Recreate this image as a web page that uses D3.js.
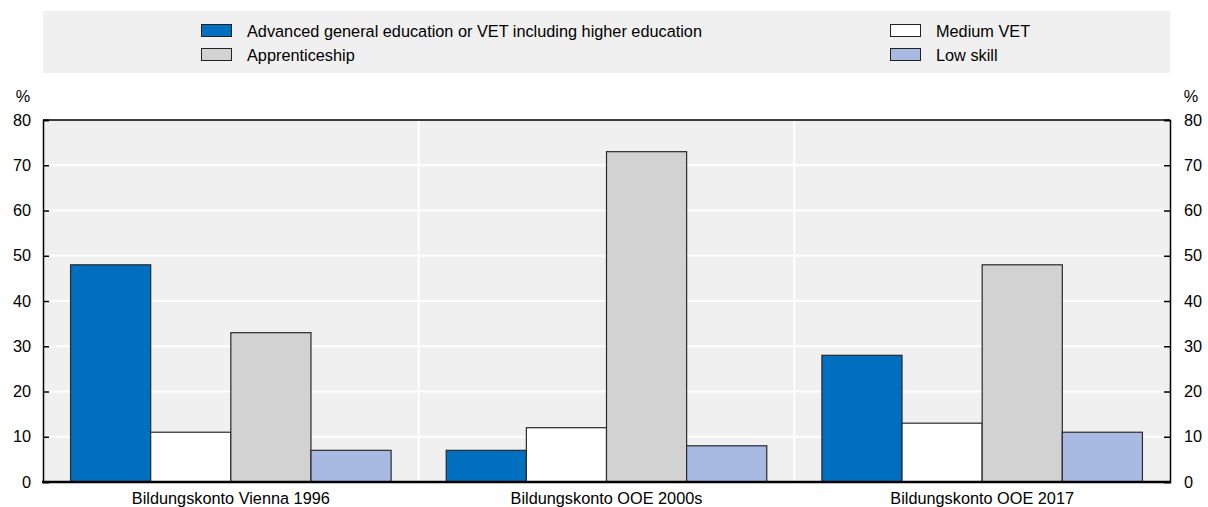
<!DOCTYPE html>
<html>
<head>
<meta charset="utf-8">
<script src="https://cdn.jsdelivr.net/npm/d3@7"></script>
<style>
  html, body { margin: 0; padding: 0; background: #fff; }
  svg { display: block; font-family: "Liberation Sans", Arial, sans-serif; }
</style>
</head>
<body>
<svg id="chart" width="1208" height="507"></svg>
<script>
// Participants by skill level, per programme (%)
const categories = ["Bildungskonto Vienna 1996", "Bildungskonto OOE 2000s", "Bildungskonto OOE 2017"];
const seriesNames = [
  "Advanced general education or VET including higher education",
  "Medium VET",
  "Apprenticeship",
  "Low skill"
];
const advanced = [48, 7, 28];
const mediumVET = [11, 12, 13];
const apprenticeship = [33, 73, 48];
const lowSkill = [7, 8, 11];
const yTicks = [0, 10, 20, 30, 40, 50, 60, 70, 80];

const seriesValues = [advanced, mediumVET, apprenticeship, lowSkill];
const colors = ["#006fc0", "#ffffff", "#d2d2d2", "#a8b9e2"];
const FS = 16.3;

const plot = { left: 43, right: 1170, top: 120, bottom: 482 };
const svg = d3.select("#chart");

// Legend panel
svg.append("rect")
  .attr("x", plot.left).attr("y", 11)
  .attr("width", plot.right - plot.left).attr("height", 62)
  .attr("fill", "#f0f0f0");

const legendPos = [
  { x: 201, y: 24 }, { x: 890, y: 24 },
  { x: 201, y: 48 }, { x: 890, y: 48 }
];
seriesNames.forEach((name, i) => {
  const p = legendPos[i];
  const g = svg.append("g").attr("transform", `translate(${p.x},${p.y})`);
  g.append("rect")
    .attr("x", 0.5).attr("y", 0.5).attr("width", 30).attr("height", 12)
    .attr("fill", colors[i]).attr("stroke", "#222").attr("stroke-width", 1);
  g.append("text")
    .attr("x", 46).attr("y", 12.5)
    .attr("font-size", FS).attr("fill", "#000")
    .text(name);
});

// Scales
const x0 = d3.scaleBand().domain(categories).range([plot.left, plot.right]).paddingInner(0).paddingOuter(0);
const x1 = d3.scaleBand().domain(d3.range(seriesNames.length)).range([0, x0.bandwidth()]).paddingOuter(0.344).paddingInner(0);
const y = d3.scaleLinear().domain([0, 80]).range([plot.bottom, plot.top]);

// Plot background
svg.append("rect")
  .attr("x", plot.left).attr("y", plot.top)
  .attr("width", plot.right - plot.left).attr("height", plot.bottom - plot.top)
  .attr("fill", "#f0f0f0");

// Horizontal gridlines
svg.append("g").selectAll("line")
  .data(yTicks.filter(t => t > 0 && t < 80))
  .join("line")
  .attr("x1", plot.left).attr("x2", plot.right)
  .attr("y1", d => y(d)).attr("y2", d => y(d))
  .attr("stroke", "#ffffff").attr("stroke-width", 2);

// Vertical separators between programmes
svg.append("g").selectAll("line")
  .data(categories.slice(1))
  .join("line")
  .attr("x1", d => x0(d)).attr("x2", d => x0(d))
  .attr("y1", plot.top).attr("y2", plot.bottom)
  .attr("stroke", "#ffffff").attr("stroke-width", 2);

// Bars
const groups = svg.append("g").selectAll("g")
  .data(categories)
  .join("g")
  .attr("transform", d => `translate(${x0(d)},0)`);

groups.selectAll("rect")
  .data((d, ci) => seriesValues.map((vals, si) => ({ si, v: vals[ci] })))
  .join("rect")
  .attr("x", d => x1(d.si))
  .attr("y", d => y(d.v))
  .attr("width", x1.bandwidth())
  .attr("height", d => y(0) - y(d.v))
  .attr("fill", d => colors[d.si])
  .attr("stroke", "#2a2a2a")
  .attr("stroke-width", 1.2);

// Left axis
const leftAxis = d3.axisLeft(y).tickValues(yTicks).tickSize(-6).tickPadding(12);
const gl = svg.append("g").attr("transform", `translate(${plot.left},0)`).call(leftAxis);
// Right axis
const rightAxis = d3.axisRight(y).tickValues(yTicks).tickSize(-6).tickPadding(14);
const gr = svg.append("g").attr("transform", `translate(${plot.right},0)`).call(rightAxis);

[gl, gr].forEach(g => {
  g.select(".domain").attr("stroke", "#000").attr("stroke-width", 1.5);
  g.selectAll(".tick line").attr("stroke", "#000").attr("stroke-width", 1.5);
  g.selectAll(".tick text").attr("font-size", FS).attr("fill", "#000")
    .attr("font-family", "Liberation Sans, Arial, sans-serif");
});

// Top frame line
svg.append("line")
  .attr("x1", plot.left).attr("x2", plot.right)
  .attr("y1", plot.top).attr("y2", plot.top)
  .attr("stroke", "#000").attr("stroke-width", 1.5);

// Bottom axis line
svg.append("line")
  .attr("x1", plot.left - 1).attr("x2", plot.right + 1)
  .attr("y1", plot.bottom).attr("y2", plot.bottom)
  .attr("stroke", "#000").attr("stroke-width", 2.5);

// Category labels
svg.append("g").selectAll("text")
  .data(categories)
  .join("text")
  .attr("x", d => x0(d) + x0.bandwidth() / 2)
  .attr("y", 504)
  .attr("text-anchor", "middle")
  .attr("font-size", FS).attr("fill", "#000")
  .text(d => d);

// Unit labels
svg.append("text").attr("x", 23).attr("y", 102).attr("text-anchor", "middle")
  .attr("font-size", FS).text("%");
svg.append("text").attr("x", 1191).attr("y", 102).attr("text-anchor", "middle")
  .attr("font-size", FS).text("%");
</script>
</body>
</html>
